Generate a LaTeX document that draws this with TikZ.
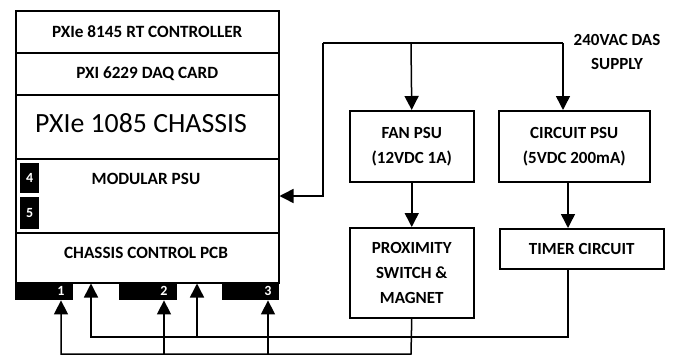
\documentclass[tikz,border=0pt]{standalone}
\usepackage{fontspec}
\setmainfont{Carlito}
\usetikzlibrary{arrows.meta,calc}
\begin{document}
\begin{tikzpicture}[x=1pt,y=-1pt,
  lw/.style={line width=1.5pt},
  bf/.style={font=\fontsize{17.2}{19}\selectfont\bfseries},
  sect/.style={draw,lw,rectangle,inner sep=0pt,anchor=north west},
  rbox/.style={draw,lw,rectangle,inner sep=0pt,anchor=north west,align=center,font=\fontsize{17}{25}\selectfont\bfseries},
  blk/.style={fill=black,rectangle,inner sep=0pt,anchor=north west},
  num/.style={text=white,font=\fontsize{14}{16}\selectfont\bfseries,inner sep=0pt},
  arr/.style={lw,-{Triangle[width=14pt,length=14pt]}},
  wire/.style={lw}]
\useasboundingbox (0,0) rectangle (678,356);
% main chassis sections
\node[sect,minimum width=263pt,minimum height=42pt] (ctrl) at (15,10) {};
\node[bf] (ctrlt) at (ctrl.center) {PXIe 8145 RT CONTROLLER};
\node[sect,minimum width=263pt,minimum height=42pt] (daq) at (15,52) {};
\node[bf] (daqt) at (daq.center) {PXI 6229 DAQ CARD};
\node[sect,minimum width=263pt,minimum height=64pt] (chas) at (15,94) {};
\node (chast) at (141,123) [font=\fontsize{27.8}{30}\selectfont] {PXIe 1085 CHASSIS};
\node[sect,minimum width=263pt,minimum height=74pt] (mpsu) at (15,158) {};
\node[bf] (mpsut) at (146,179) {MODULAR PSU};
\node[sect,minimum width=263pt,minimum height=50pt] (pcb) at (15,232) {};
\node[bf] (pcbt) at (146,253) {CHASSIS CONTROL PCB};
% modular psu slots
\node[blk,minimum width=19pt,minimum height=30pt] (s4) at (20,163) {};
\node[num] at (s4.center) {4};
\node[blk,minimum width=19pt,minimum height=32pt] (s5) at (20,197) {};
\node[num] at (s5.center) {5};
% connector bar
\node[blk,minimum width=58pt,minimum height=18pt] (c1) at (15,282) {};
\node[num] at (61,291) {1};
\node[blk,minimum width=58pt,minimum height=18pt] (c2) at (119,282) {};
\node[num] at (164,291) {2};
\node[blk,minimum width=57pt,minimum height=18pt] (c3) at (222,282) {};
\node[num] at (268,291) {3};
% right blocks
\node[rbox,minimum width=124pt,minimum height=71pt] (fan) at (349,110) {FAN PSU\\(12VDC 1A)};
\node[rbox,minimum width=151pt,minimum height=71pt] (cpsu) at (498,110) {CIRCUIT PSU\\(5VDC 200mA)};
\node[rbox,minimum width=124pt,minimum height=90pt] (prox) at (349,227) {PROXIMITY\\SWITCH \&\\MAGNET};
\node[rbox,minimum width=164pt,minimum height=40pt] (timer) at (499,228) {TIMER CIRCUIT};
\node[align=center,font=\fontsize{17}{24}\selectfont\bfseries] (supply) at (617,52) {240VAC DAS\\SUPPLY};
% supply wiring
\coordinate (sa) at (323,43);
\coordinate (sb) at (563,43);
\coordinate (sf) at (411,43);
\draw[wire] (sb) -- (sa);
\draw[arr] (sa) |- (mpsu.east |- 0,196);
\draw[arr] (sf) -- (fan.north);
\draw[arr] (sb) -- (sb |- cpsu.north);
\draw[arr] (fan.south) -- (prox.north);
\draw[arr] (568,181) -- (568,228);
% lower wiring
\coordinate (ta) at (568,268);
\coordinate (tb) at (568,337);
\coordinate (tl) at (91,337);
\coordinate (tm) at (197,337);
\draw[arr] (ta) -- (tb) -- (tl) -- (tl |- pcb.south);
\draw[arr] (tm) -- (tm |- pcb.south);
\coordinate (pb) at (411,354);
\coordinate (pl) at (61,354);
\coordinate (p2) at (164,354);
\coordinate (p3) at (268,354);
\draw[arr] (prox.south) -- (pb) -- (pl) -- (c1.south -| pl);
\draw[arr] (p2) -- (c2.south -| p2);
\draw[arr] (p3) -- (c3.south -| p3);
\end{tikzpicture}
\end{document}
